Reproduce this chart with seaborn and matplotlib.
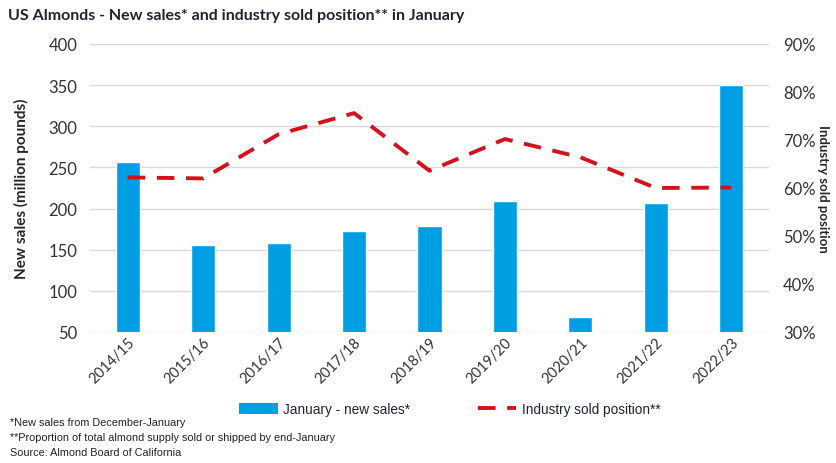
import numpy as np
import pandas as pd
import matplotlib
matplotlib.use('Agg')
import matplotlib.pyplot as plt
import seaborn as sns
from matplotlib.lines import Line2D
from matplotlib.patches import Patch
from matplotlib.ticker import FuncFormatter

# 数据
seasons = ['2014/15', '2015/16', '2016/17', '2017/18', '2018/19',
           '2019/20', '2020/21', '2021/22', '2022/23']
new_sales = [257, 156, 158, 173, 179, 209, 68, 207, 350]
sold_position = [62.2, 62.0, 71.2, 75.6, 63.6, 70.2, 66.4, 60.0, 60.1]

BAR_COLOR = '#009FE3'
LINE_COLOR = '#D5121B'
TEXT_COLOR = '#1d2433'
NARROW = ['Liberation Sans', 'DejaVu Sans']

sns.set_theme(style='white')
plt.rcParams['font.family'] = ['Lato', 'DejaVu Sans']
plt.rcParams['text.color'] = TEXT_COLOR

df = pd.DataFrame({'season': seasons, 'sales': new_sales, 'sold': sold_position})

fig = plt.figure(figsize=(8.37, 4.64), dpi=100)
ax = fig.add_axes([90 / 837, 1 - 333 / 464, (769 - 90) / 837, (333 - 45) / 464])

sns.barplot(data=df, x='season', y='sales', color=BAR_COLOR, width=0.32,
            saturation=1, ax=ax, zorder=2)
ax.set_ylim(50, 400)
ax.set_yticks(np.arange(50, 401, 50))
ax.yaxis.grid(True, color='#d9d9d9', linewidth=1, zorder=0)
ax.set_axisbelow(True)
ax.set_xlim(-0.5, len(seasons) - 0.5)
ax.set_xlabel('')
ax.set_ylabel('New sales (million pounds)', fontsize=11, fontweight='bold', labelpad=14)
ax.tick_params(axis='y', labelsize=12, length=0, pad=9, colors='#333333')
ax.tick_params(axis='x', labelsize=10.5, length=0, pad=2, colors='#333333')
plt.setp(ax.get_xticklabels(), rotation=45, ha='right', rotation_mode='anchor')

ax2 = ax.twinx()
sns.lineplot(data=df, x='season', y='sold', sort=False, color=LINE_COLOR,
             linewidth=2.8, ax=ax2)
ax2.lines[0].set_dashes([4.5, 3])
ax2.set_ylim(30, 90)
ax2.set_yticks(np.arange(30, 91, 10))
ax2.yaxis.set_major_formatter(FuncFormatter(lambda v, p: f'{v:.0f}%'))
ax2.set_ylabel('Industry sold position', fontsize=9.5, fontweight='bold',
               rotation=-90, labelpad=10)
ax2.tick_params(axis='y', labelsize=12, length=0, pad=10, colors='#333333')
ax2.set_xlabel('')

for a in (ax, ax2):
    for s in a.spines.values():
        s.set_visible(False)

# 图例
handles = [Patch(facecolor=BAR_COLOR, edgecolor='none'),
           Line2D([0], [0], color=LINE_COLOR, linewidth=2.8, dashes=[4.5, 3])]
labels = ['January - new sales*', 'Industry sold position**']
fig.legend(handles, labels, loc='center', bbox_to_anchor=(450 / 837, 1 - 410 / 464),
           ncol=2, frameon=False, handlelength=2.8, handleheight=0.9,
           columnspacing=5, handletextpad=0.4,
           prop={'family': NARROW, 'size': 9.8})

fig.text(8 / 837, 1 - 16 / 464, 'US Almonds - New sales* and industry sold position** in January',
         fontsize=11.5, fontweight='bold', va='center', ha='left')

notes = ['*New sales from December-January',
         '**Proportion of total almond supply sold or shipped by end-January',
         'Source: Almond Board of California']
for i, n in enumerate(notes):
    fig.text(10 / 837, 1 - (423 + i * 15) / 464, n, fontsize=7.8, va='center', ha='left',
             family=NARROW, color='#222222')

fig.savefig('out.png', dpi=100)
